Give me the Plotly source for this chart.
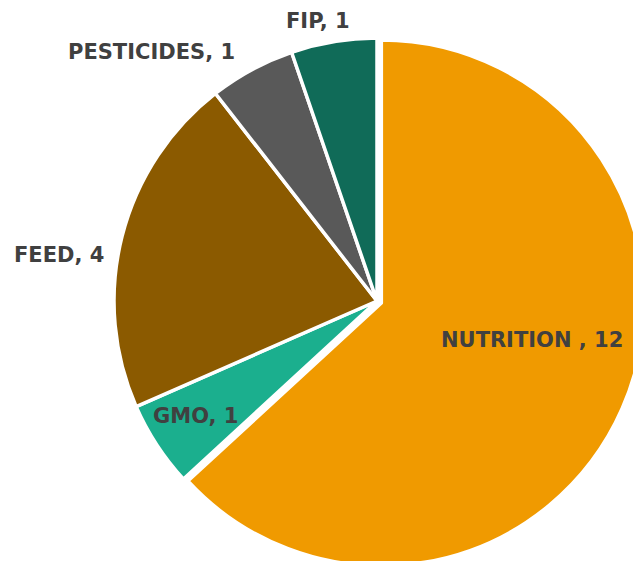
import plotly.graph_objects as go

# ---- data ----
categories = ["NUTRITION ", "GMO", "FEED", "PESTICIDES", "FIP"]
values = [12, 1, 4, 1, 1]
colors = ["#F09A00", "#1BAF8E", "#8B5A00", "#595959", "#106B58"]
pulls = [0.018, 0, 0, 0, 0]

# ---- layout (pixels) ----
W, H = 660, 590
cx, cy, r = 377, 301, 263
half = r * (1 + max(pulls))
dom_x = [(cx - half) / W, (cx + half) / W]
dom_y = [1 - (cy + half) / H, 1 - (cy - half) / H]

# label centres in pixels
label_pos = [(532, 340), (195, 416), (59, 255), (151, 52), (318, 21)]

fig = go.Figure(go.Pie(
    labels=categories,
    values=values,
    sort=False,
    direction="clockwise",
    rotation=0,
    pull=pulls,
    marker=dict(colors=colors, line=dict(color="white", width=3.5)),
    textinfo="none",
    hoverinfo="label+value",
    domain=dict(x=dom_x, y=dom_y),
    showlegend=False,
))

for cat, val, (px, py) in zip(categories, values, label_pos):
    fig.add_annotation(
        x=px / W, y=1 - py / H, xref="paper", yref="paper",
        text=f"{cat}, {val}", showarrow=False,
        xanchor="center", yanchor="middle",
        font=dict(family="DejaVu Sans", size=21, color="#404040", weight="bold"),
    )

fig.update_layout(
    width=W, height=H,
    margin=dict(l=0, r=0, t=0, b=0),
    paper_bgcolor="white",
    plot_bgcolor="white",
)

fig.write_html(
    "out.html",
    config={"displayModeBar": False},
    post_script="document.body.style.margin='0';document.body.style.overflow='hidden';document.documentElement.style.overflow='hidden';",
)
